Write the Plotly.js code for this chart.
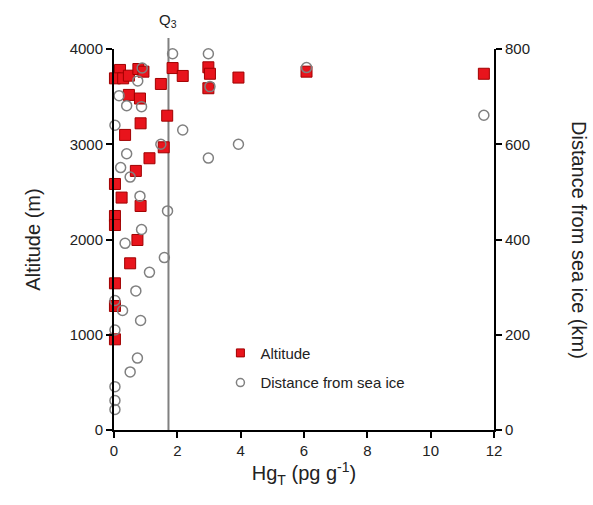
<!DOCTYPE html>
<html>
<head>
<meta charset="utf-8">
<script src="https://cdn.plot.ly/plotly-3.0.1.min.js"></script>
<style>html,body{margin:0;padding:0;background:#fff;}#chart{width:593px;height:505px;}</style>
</head>
<body>
<div id="chart"></div>
<script>
// HgT (pg/g) and altitude (m)
const altHg = [0.19,0.03,0.29,0.47,0.77,0.93,1.48,1.85,2.17,2.98,3.03,2.98,3.93,6.08,11.68,
  0.47,0.82,0.84,1.68,0.35,1.57,1.12,0.69,0.03,0.24,0.84,0.03,0.03,0.74,0.51,0.03,0.03,0.03];
const altitude = [3780,3692,3692,3720,3790,3762,3633,3800,3717,3808,3740,3588,3700,3762,3740,
  3518,3480,3220,3300,3098,2968,2853,2720,2583,2440,2352,2247,2152,1995,1750,1540,1302,952];
// HgT (pg/g) and distance from sea ice (km)
const distHg = [1.85,2.98,0.89,0.75,0.16,0.40,0.87,0.03,2.17,1.48,0.40,2.98,3.03,6.08,11.68,3.93,
  0.21,0.51,0.82,1.69,0.87,0.35,1.59,1.12,0.69,0.03,0.27,0.84,0.03,0.74,0.51,0.03,0.03,0.03];
const distance = [790,790,760,733,702,681,679,640,630,600,580,571,721,761,661,600,
  551,531,491,460,421,392,362,331,292,272,251,230,210,151,122,91,62,43];
const q3 = 1.72;
const xTicks = [0,2,4,6,8,10,12];
const altTicks = [0,1000,2000,3000,4000];
const distTicks = [0,200,400,600,800];

const red = '#e8141c', redLine = '#a00000', grey = '#808080';
const font = {family: 'Liberation Sans, Arial, sans-serif', color: '#222', size: 14};

const traces = [
  {x: distHg, y: distance, yaxis: 'y2', type: 'scatter', mode: 'markers', showlegend: false,
   cliponaxis: false, name: 'Distance from sea ice',
   marker: {symbol: 'circle-open', size: 10, color: grey, line: {width: 1.5, color: grey}}},
  {x: altHg, y: altitude, type: 'scatter', mode: 'markers', showlegend: false,
   cliponaxis: false, name: 'Altitude',
   marker: {symbol: 'square', size: 11, color: red, line: {width: 1, color: redLine}}},
  {x: [null], y: [null], type: 'scatter', mode: 'markers', name: 'Altitude', legend: 'legend',
   marker: {symbol: 'square', size: 8, color: red, line: {width: 1, color: redLine}}},
  {x: [null], y: [null], type: 'scatter', mode: 'markers', name: 'Distance from sea ice', legend: 'legend2',
   marker: {symbol: 'circle-open', size: 8, color: grey, line: {width: 1.5, color: grey}}}
];

const layout = {
  width: 593, height: 505,
  margin: {l: 114, r: 99, t: 49, b: 75},
  paper_bgcolor: '#fff', plot_bgcolor: '#fff',
  font: font,
  showlegend: true,
  xaxis: {range: [0, 12], tickvals: xTicks, ticks: 'outside', ticklen: 6, tickwidth: 2, tickcolor: '#000',
    showline: true, linecolor: '#000', linewidth: 2, showgrid: false, zeroline: false,
    tickfont: {size: 15}, title: {text: 'Hg<sub>T</sub> (pg g<sup>-1</sup>)', font: {size: 20}, standoff: 2}},
  yaxis: {range: [0, 4000], tickvals: altTicks, ticks: 'outside', ticklen: 6, tickwidth: 2, tickcolor: '#000',
    showline: true, linecolor: '#000', linewidth: 2, showgrid: false, zeroline: false,
    tickfont: {size: 15}, title: {text: 'Altitude (m)', font: {size: 20}, standoff: 24}},
  yaxis2: {range: [0, 800], tickvals: distTicks, overlaying: 'y', side: 'right', ticks: 'outside', ticklen: 6,
    tickwidth: 2, tickcolor: '#000', showline: true, linecolor: '#000', linewidth: 2, showgrid: false,
    zeroline: false, tickfont: {size: 15}},
  legend: {x: 0.28, y: 0.245, xanchor: 'left', yanchor: 'top', font: {size: 15}, bgcolor: 'rgba(0,0,0,0)'},
  legend2: {x: 0.28, y: 0.167, xanchor: 'left', yanchor: 'top', font: {size: 15}, bgcolor: 'rgba(0,0,0,0)'},
  shapes: [{type: 'line', xref: 'x', yref: 'paper', x0: q3, x1: q3, y0: 0, y1: 1.029,
    line: {color: grey, width: 2}, layer: 'below'}],
  annotations: [
    {text: 'Q<sub>3</sub>', xref: 'x', yref: 'paper', x: q3, y: 1.045, xanchor: 'center', yanchor: 'bottom',
     showarrow: false, font: {size: 15}},
    {text: 'Distance from sea ice (km)', xref: 'paper', yref: 'paper', x: 1.225, y: 0.5, textangle: 90,
     xanchor: 'center', yanchor: 'middle', showarrow: false, font: {size: 20}}
  ]
};

Plotly.newPlot('chart', traces, layout, {displayModeBar: false, staticPlot: true});
</script>
</body>
</html>
